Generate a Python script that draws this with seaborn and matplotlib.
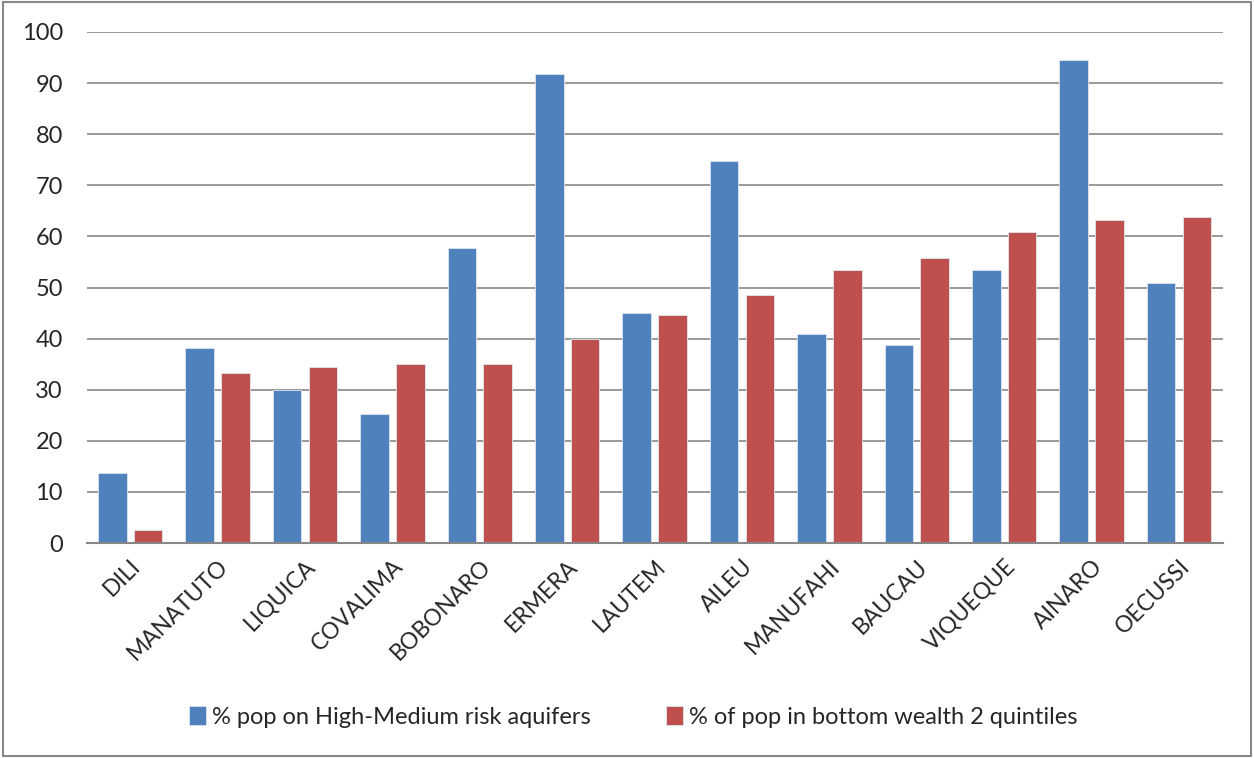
import pandas as pd
import matplotlib.pyplot as plt
import matplotlib.patches as mpatches
import seaborn as sns

# District values
districts = ['DILI', 'MANATUTO', 'LIQUICA', 'COVALIMA', 'BOBONARO', 'ERMERA', 'LAUTEM',
             'AILEU', 'MANUFAHI', 'BAUCAU', 'VIQUEQUE', 'AINARO', 'OECUSSI']
aquifer_risk = [13.8, 38.2, 30.0, 25.3, 57.7, 91.8, 45.0, 74.7, 41.0, 38.7, 53.4, 94.6, 50.8]
bottom_wealth = [2.5, 33.2, 34.5, 35.0, 35.0, 40.0, 44.7, 48.5, 53.5, 55.8, 60.8, 63.2, 63.8]
series_names = ['% pop on High-Medium risk aquifers', '% of pop in bottom wealth 2 quintiles']
colors = ['#4F81BD', '#C0504D']

df = pd.DataFrame({'District': districts * 2,
                   'Value': aquifer_risk + bottom_wealth,
                   'Series': [series_names[0]] * len(districts) + [series_names[1]] * len(districts)})

sns.set_style('white')
plt.rcParams['font.family'] = ['Lato', 'DejaVu Sans']

fig = plt.figure(figsize=(12.54, 7.58), dpi=100)
ax = fig.add_axes([0.069, 0.2836, 0.906, 0.6742])

sns.barplot(data=df, x='District', y='Value', hue='Series', palette=colors,
            width=0.82, gap=0.2, ax=ax, legend=True, saturation=1,
            edgecolor='#dfe6f0', linewidth=0.6)

ax.set_ylim(0, 100)
ax.set_yticks(range(0, 101, 10))
ax.set_xlim(-0.5, len(districts) - 0.5)
ax.yaxis.grid(True, color='#878787', linewidth=1.2)
ax.set_axisbelow(True)
for s in ['top', 'right', 'left']:
    ax.spines[s].set_visible(False)
ax.spines['bottom'].set_color('#878787')
ax.spines['bottom'].set_linewidth(1.5)
ax.tick_params(axis='y', length=0, labelsize=17, pad=17)
ax.tick_params(axis='x', length=0, labelsize=16.5, pad=9)
ax.set_xticks(range(len(districts)))
ax.set_xticklabels(districts, rotation=45, ha='right', rotation_mode='anchor')
ax.set_xlabel('')
ax.set_ylabel('')

handles, labels = ax.get_legend_handles_labels()
ax.get_legend().remove()
fig.legend(handles, labels, loc='center', bbox_to_anchor=(0.505, 0.054), ncol=2,
           frameon=False, fontsize=17, columnspacing=3.2, handlelength=0.7,
           handleheight=0.8, handletextpad=0.25)

# gray frame around the whole chart
fig.add_artist(mpatches.Rectangle((0.002, 0.002), 0.996, 0.996, transform=fig.transFigure,
                                  fill=False, edgecolor='#888888', linewidth=1.5))

fig.savefig('out.png', dpi=100)
